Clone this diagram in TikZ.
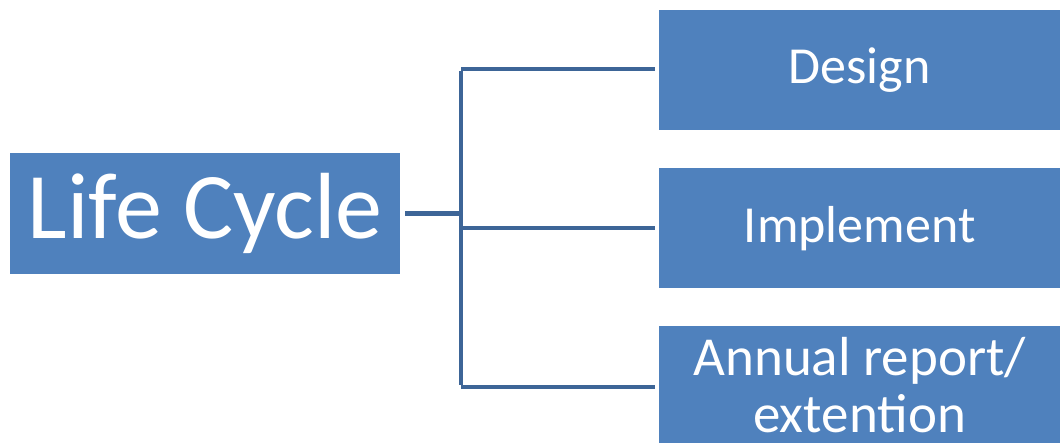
\documentclass[tikz,border=0pt]{standalone}
\usepackage{fontspec}
\setmainfont{Carlito}
\definecolor{boxblue}{HTML}{4F81BD}
\definecolor{lineblue}{HTML}{3D6597}
\begin{document}
\begin{tikzpicture}[x=1pt,y=-1pt,
  blk/.style={fill=boxblue,draw=none,text=white,inner sep=0pt,anchor=north west,align=center},
  conn/.style={draw=lineblue,line width=4.5pt}]
\useasboundingbox (0,0) rectangle (1060,443);
\node[blk,minimum width=390pt,minimum height=121pt,font=\fontsize{94}{100}\selectfont] (lc) at (10,153) {Life Cycle};
\node[blk,minimum width=401pt,minimum height=120pt,font=\fontsize{52}{57}\selectfont] (d) at (659,10) {Design};
\node[blk,minimum width=401pt,minimum height=120pt,font=\fontsize{52}{57}\selectfont] (i) at (659,168) {Implement};
\node[blk,minimum width=401pt,minimum height=117pt,font=\fontsize{55}{57}\selectfont,text depth=0pt] (a) at (659,326) {Annual report/\\extention};
\coordinate (top) at (461,69);
\coordinate (bot) at (461,387);
\coordinate (mid) at (461,228);
\draw[conn] ([xshift=5pt]lc.east) -- (lc.east -| top);
\draw[conn] ([yshift=-2pt]top) -- ([yshift=2pt]bot);
\draw[conn] (top) -- ([xshift=-4pt]top -| d.west);
\draw[conn] (mid) -- ([xshift=-4pt]mid -| i.west);
\draw[conn] (bot) -- ([xshift=-4pt]bot -| a.west);
\end{tikzpicture}
\end{document}
